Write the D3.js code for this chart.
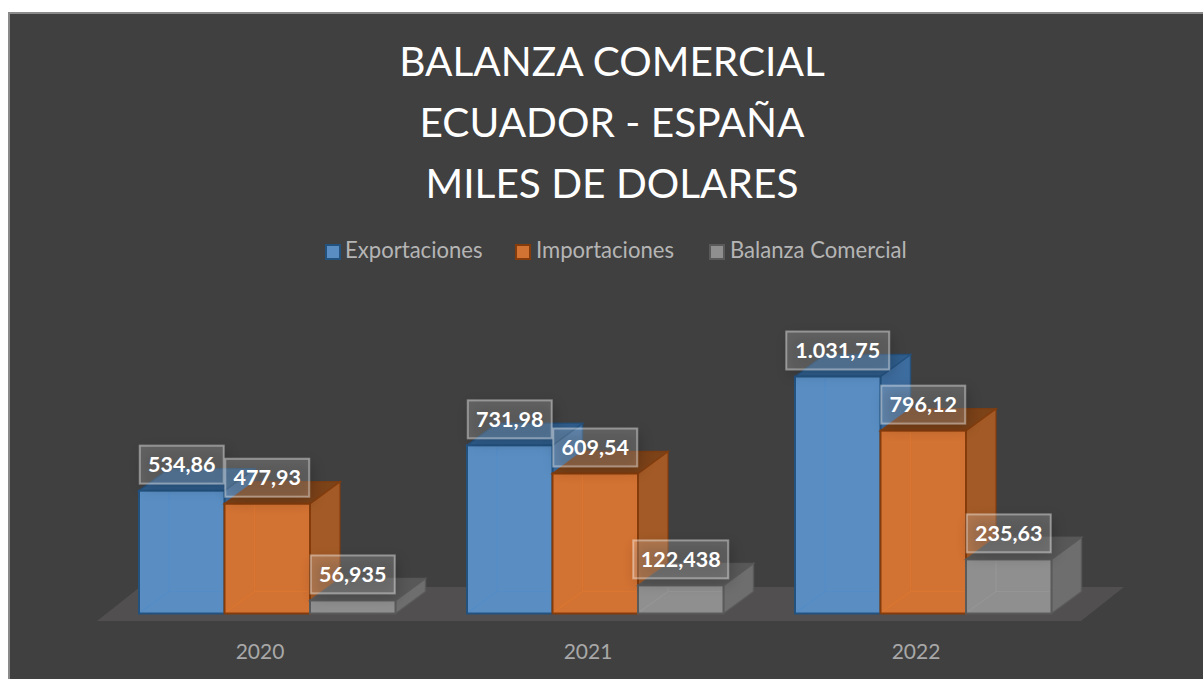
<!DOCTYPE html>
<html><head><meta charset="utf-8">
<script src="https://cdn.jsdelivr.net/npm/d3@7/dist/d3.min.js"></script>
<style>html,body{margin:0;padding:0;background:#fff}svg{display:block}text{font-family:Lato,"Open Sans",sans-serif}</style>
</head><body><svg id="c" width="1203" height="679"></svg>
<script>
const years = ["2020","2021","2022"];
const seriesNames = ["Exportaciones","Importaciones","Balanza Comercial"];
const exportaciones = [534.86,731.98,1031.75];
const importaciones = [477.93,609.54,796.12];
const balanza = [56.935,122.438,235.63];
const labelsExp = ["534,86","731,98","1.031,75"];
const labelsImp = ["477,93","609,54","796,12"];
const labelsBal = ["56,935","122,438","235,63"];
const titleLines = ["BALANZA COMERCIAL","ECUADOR - ESPAÑA","MILES DE DOLARES"];

const palette = [
 {front:"#5a8ec3",side:"#3d6c9e",top:"#2f5d8c",edge:"#23527f",inner:"#4f8bc9"},
 {front:"#d27233",side:"#a35a26",top:"#7c4218",edge:"#843c0c",inner:"#e07a2e"},
 {front:"#8f8f8f",side:"#6e6e6e",top:"#585858",edge:"#5a5a5a",inner:"#9a9a9a"}
];
const svg = d3.select("#c");
svg.append("rect").attr("x",9).attr("y",13).attr("width",1200).attr("height",672)
  .attr("fill","#404040").attr("stroke","#8a8a8a").attr("stroke-width",2);

const defs = svg.append("defs");
const f = defs.append("filter").attr("id","blur").attr("x","-30%").attr("y","-60%").attr("width","160%").attr("height","220%");
f.append("feGaussianBlur").attr("stdDeviation",7);

const x0 = d3.scaleBand().domain(years).range([97,1081]).paddingInner(0).paddingOuter(0);
const x1 = d3.scaleBand().domain(d3.range(3)).range([42,298.5]);
const y = d3.scaleLinear().domain([0,1031.75]).range([613.5,376.5]);
const depthX = 30, depthY = 22;

// title
svg.append("g").selectAll("text").data(titleLines).join("text")
  .attr("x",612).attr("y",(d,i)=>76+i*61).attr("text-anchor","middle")
  .attr("fill","#ffffff").attr("font-size",40.6).text(d=>d);

// legend
const legendX = [326,516,710], legendTextX=[345,536,730];
const lg = svg.append("g").selectAll("g").data(seriesNames).join("g");
lg.append("rect").attr("x",(d,i)=>legendX[i]).attr("y",245).attr("width",14).attr("height",14)
  .attr("fill",(d,i)=>palette[i].front).attr("stroke",(d,i)=>palette[i].edge).attr("stroke-width",2);
lg.append("text").attr("x",(d,i)=>legendTextX[i]).attr("y",258).attr("font-size",22.1)
  .attr("fill","#b5b5b5").text(d=>d);

// floor
const fx0 = x0.range()[0], fx1 = x0.range()[1];
svg.append("path").attr("fill","#514f4f")
  .attr("d",d3.line()([[fx0,621],[fx1,621],[fx1+43,587],[fx0+43,587]])+"Z");

// x axis
const axis = svg.append("g").attr("transform","translate(0,643)")
  .call(d3.axisBottom(x0).tickSize(0).tickPadding(0));
axis.select(".domain").remove();
axis.selectAll("text").attr("font-size",21).attr("font-family","Lato,sans-serif")
  .attr("fill","#a8a8a8").attr("dy","0.75em").attr("dx",-1);

const series = [exportaciones,importaciones,balanza];
const labels = [labelsExp,labelsImp,labelsBal];
const path = d3.line();
const barsData = [];
years.forEach((yr,g)=>series.forEach((s,k)=>barsData.push({g:yr,k,v:s[g],label:labels[k][g]})));
const bx = d=>x0(d.g)+x1(d.k);
const w = x1.bandwidth();
const base = y(0);

const bars = svg.append("g").selectAll("g").data(barsData).join("g");
// right side
bars.append("path").attr("fill",d=>palette[d.k].side).attr("stroke",d=>palette[d.k].edge).attr("stroke-width",1.5).attr("stroke-opacity",.75)
  .attr("d",d=>{const X=bx(d)+w,T=y(d.v);return path([[X,T],[X+depthX,T-depthY],[X+depthX,base-depthY],[X,base]])+"Z";});
// top
bars.append("path").attr("fill",d=>palette[d.k].top).attr("stroke",d=>palette[d.k].edge).attr("stroke-width",1.5).attr("stroke-opacity",.75)
  .attr("d",d=>{const X=bx(d),T=y(d.v);return path([[X,T],[X+depthX,T-depthY],[X+w+depthX,T-depthY],[X+w,T]])+"Z";});
// front
bars.append("rect").attr("x",d=>bx(d)).attr("y",d=>y(d.v)).attr("width",w).attr("height",d=>base-y(d.v))
  .attr("fill",d=>palette[d.k].front).attr("stroke",d=>palette[d.k].edge).attr("stroke-width",2);
// hidden back edges seen through the front face
bars.append("path").attr("fill","none").attr("stroke",d=>palette[d.k].inner).attr("stroke-width",1.2).attr("stroke-opacity",.55)
  .attr("d",d=>{const X=bx(d),T=y(d.v);
    if(base-T<=depthY) return "";
    return path([[X+2,base-2],[X+depthX,base-depthY],[X+w-2,base-depthY]])+"M"+(X+depthX)+","+(base-depthY)+"V"+(T+2);});

// data labels on top of everything
const boxW = d=>d.label.length>7?103:(d.label.length>6?95:84);
const lab = svg.append("g").selectAll("g").data(barsData).join("g")
  .attr("transform",d=>`translate(${bx(d)+w/2},${y(d.v)-26.5})`);
// soft shadow cast by each label
lab.append("rect").attr("x",d=>-boxW(d)/2+3).attr("y",-14).attr("width",boxW).attr("height",38)
  .attr("fill","#000").attr("opacity",.2).attr("filter","url(#blur)");
lab.append("rect").attr("x",d=>-boxW(d)/2).attr("y",-18.5).attr("width",boxW).attr("height",38)
  .attr("fill","#ffffff").attr("fill-opacity",.19).attr("stroke","#ffffff").attr("stroke-opacity",.4).attr("stroke-width",2);
lab.append("text").attr("text-anchor","middle").attr("y",8).attr("font-size",21.5).attr("font-weight",700)
  .attr("fill","#ffffff").text(d=>d.label);
</script></body></html>
